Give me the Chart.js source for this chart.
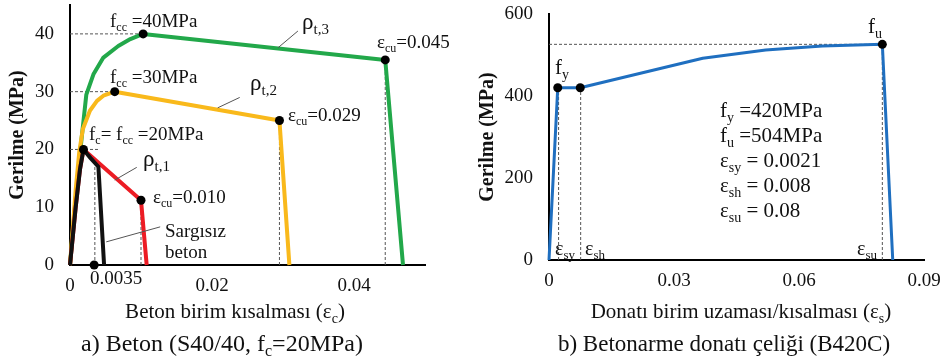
<!DOCTYPE html>
<html>
<head>
<meta charset="utf-8">
<script src="https://cdn.jsdelivr.net/npm/chart.js@4.4.1/dist/chart.umd.min.js"></script>
<style>
  html, body { margin: 0; padding: 0; background: #fff; }
  #wrap { position: relative; width: 947px; height: 360px; overflow: hidden; }
  #left { position: absolute; left: 0; top: 0; }
  #right { position: absolute; left: 470px; top: 0; }
</style>
</head>
<body>
<div id="wrap">
  <canvas id="left" width="470" height="360"></canvas>
  <canvas id="right" width="477" height="360"></canvas>
</div>
<script>
// a) concrete: stress (MPa) vs strain
const concreteTicksX = [0, 0.02, 0.04];
const concreteTicksY = [0, 10, 20, 30, 40];

const rho3Strain = [0, 0.0008, 0.0016, 0.0023, 0.0033, 0.0047, 0.0068, 0.0085, 0.0103, 0.0444, 0.0469];
const rho3Stress = [0, 11.5, 21.5, 29.5, 33, 35.9, 37.9, 39.1, 40, 35.5, 0];

const rho2Strain = [0, 0.0008, 0.0013, 0.0018, 0.0028, 0.0038, 0.0047, 0.0063, 0.0295, 0.0309];
const rho2Stress = [0, 13, 19.5, 23.5, 26.7, 28.4, 29.3, 30, 25, 0];

const rho1Strain = [0, 0.0008, 0.0014, 0.0019, 0.0100, 0.0108];
const rho1Stress = [0, 10, 16.5, 20, 11.2, 0];

const plainStrain = [0, 0.0008, 0.0014, 0.0019, 0.0029, 0.0040, 0.0048];
const plainStress = [0, 10, 16.5, 20, 18.5, 17, 0];

const concreteDotStrain = [0.0019, 0.0063, 0.0103, 0.0100, 0.0295, 0.0444, 0.0034];
const concreteDotStress = [20, 30, 40, 11.2, 25, 35.5, 0];

// dashed guides: horizontal (stress level, end strain), vertical (strain, top stress)
const concreteHGuideY = [40, 30, 20];
const concreteHGuideEnd = [0.0103, 0.0063, 0.0042];
const concreteVGuideX = [0.0035, 0.0100, 0.0295, 0.0444];
const concreteVGuideTop = [17, 11.2, 25, 35.5];

// b) reinforcing steel
const steelTicksX = [0, 0.03, 0.06, 0.09];
const steelTicksY = [0, 200, 400, 600];

const steelStrain = [0, 0.0021, 0.0075, 0.0369, 0.052, 0.0656, 0.0800, 0.0825];
const steelStress = [0, 420, 420, 492, 512, 522, 526, 0];

const steelDotStrain = [0.0021, 0.0075, 0.0800];
const steelDotStress = [420, 420, 526];

const steelHGuideY = [526];
const steelHGuideEnd = [0.0800];
const steelVGuideX = [0.0023, 0.0076, 0.0800];
const steelVGuideTop = [420, 420, 526];

const serif = '"Liberation Serif", "Times New Roman", serif';
Chart.defaults.font.family = serif;
Chart.defaults.color = '#111';

function xy(xs, ys) {
  return xs.map((x, i) => ({ x, y: ys[i] }));
}

function curve(xs, ys, color, width) {
  return {
    data: xy(xs, ys),
    borderColor: color,
    borderWidth: width,
    pointRadius: 0,
    tension: 0,
    fill: false,
    borderJoinStyle: 'round',
    clip: false
  };
}

function dots(xs, ys) {
  return {
    data: xy(xs, ys),
    showLine: false,
    pointRadius: 4.5,
    pointBackgroundColor: '#000',
    pointBorderWidth: 0,
    clip: false
  };
}

function guideSets(hy, hend, vx, vtop) {
  const dashed = (pts) => ({
    data: pts,
    borderColor: '#555',
    borderWidth: 1,
    borderDash: [3, 2],
    pointRadius: 0,
    tension: 0,
    fill: false
  });
  const sets = [];
  hy.forEach((y, i) => sets.push(dashed([{ x: 0, y }, { x: hend[i], y }])));
  vx.forEach((x, i) => sets.push(dashed([{ x, y: 0 }, { x, y: vtop[i] }])));
  return sets;
}

// text with subscripts: parts = [[text, isSub], ...], y = baseline
function drawRich(ctx, label) {
  const { x, y, parts, size, align } = label;
  const fontFor = (sub) => `${sub ? Math.round(size * 0.65) : size}px ${serif}`;
  const widths = parts.map(([t, sub]) => {
    ctx.font = fontFor(sub);
    return ctx.measureText(t).width;
  });
  const total = widths.reduce((a, b) => a + b, 0);
  let cx = align === 'center' ? x - total / 2 : x;
  ctx.textBaseline = 'alphabetic';
  ctx.textAlign = 'left';
  parts.forEach(([t, sub], i) => {
    ctx.font = fontFor(sub);
    ctx.fillText(t, cx, sub ? y + size * 0.22 : y);
    cx += widths[i];
  });
}

function notesPlugin(leaders, labels) {
  return {
    id: 'notes',
    afterDraw(chart) {
      const { ctx } = chart;
      const sx = chart.scales.x;
      const sy = chart.scales.y;
      ctx.save();
      ctx.strokeStyle = '#555';
      ctx.lineWidth = 1;
      leaders.forEach(([x1, y1, x2, y2]) => {
        ctx.beginPath();
        ctx.moveTo(sx.getPixelForValue(x1), sy.getPixelForValue(y1));
        ctx.lineTo(sx.getPixelForValue(x2), sy.getPixelForValue(y2));
        ctx.stroke();
      });
      ctx.fillStyle = '#111';
      labels.forEach((l) => drawRich(ctx, l));
      ctx.restore();
    }
  };
}

// tick gaps go through tickLength (grid hidden) so they do not widen the plot padding
function axes(ticksX, ticksY, maxX, maxY, yWidth, xHeight, fmtX) {
  const tickFont = { family: serif, size: 19 };
  return {
    x: {
      type: 'linear',
      min: 0,
      max: maxX,
      grid: { display: false, drawTicks: true, tickLength: 10 },
      border: { display: true, color: '#000', width: 2 },
      afterBuildTicks: (s) => { s.ticks = ticksX.map((v) => ({ value: v })); },
      afterFit: (s) => { s.height = xHeight; },
      ticks: { font: tickFont, color: '#111', padding: 0, maxRotation: 0, callback: fmtX }
    },
    y: {
      type: 'linear',
      min: 0,
      max: maxY,
      grid: { display: false, drawTicks: true, tickLength: 16 },
      border: { display: true, color: '#000', width: 2 },
      afterBuildTicks: (s) => { s.ticks = ticksY.map((v) => ({ value: v })); },
      afterFit: (s) => { s.width = yWidth; },
      ticks: { font: { ...tickFont, lineHeight: 0.5 }, color: '#111', padding: 0 },
      title: {
        display: true,
        text: 'Gerilme (MPa)',
        color: '#111',
        font: { family: serif, size: 20, weight: 'bold' },
        padding: { top: 6, bottom: 0 }
      }
    }
  };
}

const baseOptions = {
  responsive: false,
  animation: false,
  events: [],
  plugins: { legend: { display: false }, tooltip: { enabled: false } }
};

// ---- left chart: concrete
const concreteLeaders = [
  [0.0293, 37.6, 0.0321, 40.5],
  [0.0208, 27.2, 0.0239, 29.0],
  [0.0063, 14.7, 0.0094, 16.9],
  [0.0051, 4.0, 0.0127, 6.6]
];

const concreteLabels = [
  { x: 110, y: 27, size: 19, parts: [['f', 0], ['cc', 1], [' =40MPa', 0]] },
  { x: 110, y: 83, size: 19, parts: [['f', 0], ['cc', 1], [' =30MPa', 0]] },
  { x: 89, y: 140, size: 19, parts: [['f', 0], ['c', 1], ['= f', 0], ['cc', 1], [' =20MPa', 0]] },
  { x: 377, y: 48, size: 19, parts: [['\u03b5', 0], ['cu', 1], ['=0.045', 0]] },
  { x: 288, y: 121, size: 19, parts: [['\u03b5', 0], ['cu', 1], ['=0.029', 0]] },
  { x: 153, y: 203, size: 19, parts: [['\u03b5', 0], ['cu', 1], ['=0.010', 0]] },
  { x: 302, y: 29, size: 23, parts: [['\u03c1', 0], ['t,3', 1]] },
  { x: 250, y: 90, size: 23, parts: [['\u03c1', 0], ['t,2', 1]] },
  { x: 143, y: 166, size: 23, parts: [['\u03c1', 0], ['t,1', 1]] },
  { x: 165, y: 237, size: 19, parts: [['Sarg\u0131s\u0131z', 0]] },
  { x: 165, y: 258, size: 19, parts: [['beton', 0]] },
  { x: 90, y: 284, size: 19, parts: [['0.0035', 0]] },
  { x: 235, y: 318, size: 21, align: 'center', parts: [['Beton birim k\u0131salmas\u0131 (\u03b5', 0], ['c', 1], [')', 0]] },
  { x: 222, y: 351, size: 24, align: 'center', parts: [['a) Beton (S40/40, f', 0], ['c', 1], ['=20MPa)', 0]] }
];

new Chart(document.getElementById('left'), {
  type: 'line',
  data: {
    datasets: [
      dots(concreteDotStrain, concreteDotStress),
      curve(plainStrain, plainStress, '#111111', 4),
      curve(rho1Strain, rho1Stress, '#ec1c24', 4),
      curve(rho2Strain, rho2Stress, '#f9b91b', 4),
      curve(rho3Strain, rho3Stress, '#22a84a', 4),
      ...guideSets(concreteHGuideY, concreteHGuideEnd, concreteVGuideX, concreteVGuideTop)
    ]
  },
  options: {
    ...baseOptions,
    layout: { padding: { top: 5, right: 45, left: 0, bottom: 0 } },
    scales: axes(concreteTicksX, concreteTicksY, 0.05, 45, 70, 95, (v) => String(v))
  },
  plugins: [notesPlugin(concreteLeaders, concreteLabels)]
});

// ---- right chart: steel
const steelLabels = [
  { x: 398, y: 33, size: 21, parts: [['f', 0], ['u', 1]] },
  { x: 85, y: 74, size: 21, parts: [['f', 0], ['y', 1]] },
  { x: 250, y: 117, size: 21, parts: [['f', 0], ['y', 1], [' =420MPa', 0]] },
  { x: 250, y: 142, size: 21, parts: [['f', 0], ['u', 1], [' =504MPa', 0]] },
  { x: 250, y: 167, size: 21, parts: [['\u03b5', 0], ['sy', 1], [' = 0.0021', 0]] },
  { x: 250, y: 192, size: 21, parts: [['\u03b5', 0], ['sh', 1], [' = 0.008', 0]] },
  { x: 250, y: 217, size: 21, parts: [['\u03b5', 0], ['su', 1], [' = 0.08', 0]] },
  { x: 85, y: 255, size: 20, parts: [['\u03b5', 0], ['sy', 1]] },
  { x: 115, y: 255, size: 20, parts: [['\u03b5', 0], ['sh', 1]] },
  { x: 387, y: 255, size: 20, parts: [['\u03b5', 0], ['su', 1]] },
  { x: 271, y: 318, size: 21, align: 'center', parts: [['Donat\u0131 birim uzamas\u0131/k\u0131salmas\u0131 (\u03b5', 0], ['s', 1], [')', 0]] },
  { x: 254, y: 351, size: 23, align: 'center', parts: [['b) Betonarme donat\u0131 \u00e7eli\u011fi (B420C)', 0]] }
];

new Chart(document.getElementById('right'), {
  type: 'line',
  data: {
    datasets: [
      dots(steelDotStrain, steelDotStress),
      curve(steelStrain, steelStress, '#1f6fc0', 3),
      ...guideSets(steelHGuideY, steelHGuideEnd, steelVGuideX, steelVGuideTop)
    ]
  },
  options: {
    ...baseOptions,
    layout: { padding: { top: 14, right: 23, left: 0, bottom: 0 } },
    scales: axes(steelTicksX, steelTicksY, 0.09, 600, 79, 100, (v) => String(v))
  },
  plugins: [notesPlugin([], steelLabels)]
});
</script>
</body>
</html>
